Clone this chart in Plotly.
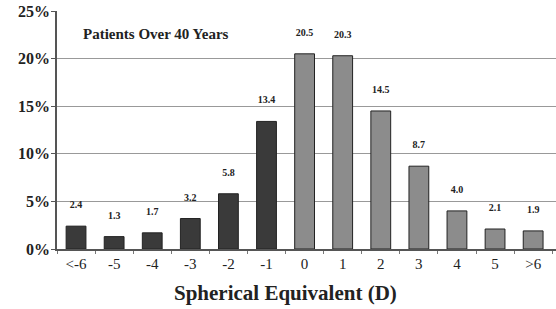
import plotly.graph_objects as go

categories = ["<-6", "-5", "-4", "-3", "-2", "-1", "0", "1", "2", "3", "4", "5", ">6"]
values = [2.4, 1.3, 1.7, 3.2, 5.8, 13.4, 20.5, 20.3, 14.5, 8.7, 4.0, 2.1, 1.9]
colors = ["#3a3a3a"] * 6 + ["#8c8c8c"] * 7
y_ticks = [0, 5, 10, 15, 20, 25]
y_tick_labels = ["0%", "5%", "10%", "15%", "20%", "25%"]

serif = "Liberation Serif, Times New Roman, serif"

fig = go.Figure()
fig.add_trace(go.Bar(
    x=categories, y=values,
    marker=dict(color=colors, line=dict(color="#222222", width=1)),
    width=0.52,
    text=["<b>%.1f</b><br> " % v for v in values],
    textposition="outside",
    textfont=dict(family=serif, size=10, color="#222222"),
    cliponaxis=False,
))

fig.update_layout(
    width=556, height=309,
    margin=dict(l=57, r=0, t=11, b=60, autoexpand=False),
    paper_bgcolor="white", plot_bgcolor="white",
    showlegend=False,
    font=dict(family=serif, color="#222222"),
    xaxis=dict(
        type="category",
        range=[-0.5, 12.6],
        automargin=False,
        tickfont=dict(family=serif, size=15, color="#222222"),
        showgrid=False,
        showline=True, linecolor="#555555", linewidth=1.5,
        ticks="outside", ticklen=3, tickcolor="#777777",
        tickson="boundaries",
    ),
    yaxis=dict(
        range=[0, 25],
        automargin=False,
        tickvals=y_ticks, ticktext=["<b>%s</b>" % t for t in y_tick_labels],
        tickfont=dict(family=serif, size=16, color="#222222"),
        showgrid=True, gridcolor="#999999", gridwidth=1,
        showline=True, linecolor="#555555", linewidth=1.5,
        ticks="outside", ticklen=4, tickcolor="#555555",
        ticklabelstandoff=-2,
        zeroline=False,
    ),
    annotations=[
        dict(
            text="<b>Patients Over 40 Years</b>",
            xref="paper", yref="paper", x=0.048, y=0.905,
            xanchor="left", yanchor="middle", showarrow=False,
            font=dict(family=serif, size=15, color="#222222"),
        ),
        dict(
            text="<b>Spherical Equivalent (D)</b>",
            xref="paper", yref="paper", x=0.457, y=-0.185,
            xanchor="center", yanchor="middle", showarrow=False,
            font=dict(family=serif, size=21, color="#222222"),
        ),
    ],
)

fig.write_html("out.html", post_script="document.body.style.margin='0';",
               config={"displayModeBar": False})
